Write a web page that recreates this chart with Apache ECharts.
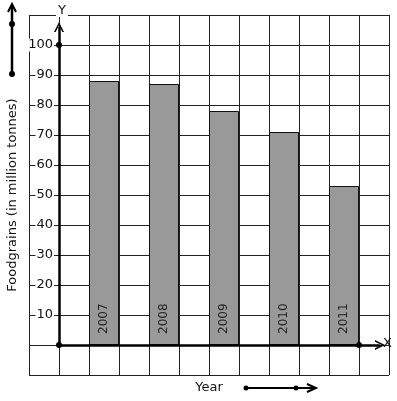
<!DOCTYPE html>
<html>
<head>
<meta charset="utf-8">
<script src="https://cdn.jsdelivr.net/npm/echarts@6/dist/echarts.min.js"></script>
<style>
  html, body { margin: 0; padding: 0; background: #fff; }
  #chart { width: 397px; height: 401px; }
</style>
</head>
<body>
<div id="chart"></div>
<script>
// data
var years = ['2007', '2008', '2009', '2010', '2011'];
var production = [88, 87, 78, 71, 53];
var yTicks = [10, 20, 30, 40, 50, 60, 70, 80, 90, 100];

var font = 'DejaVu Sans';
var chevron = 'path://M0,12 L6,0 L12,12 L10,12 L6,4 L2,12 Z';

// bars sit in every other grid column, starting at the second one
var barData = years.map(function (y, i) {
  return [1.5 + 2 * i, production[i]];
});

var chart = echarts.init(document.getElementById('chart'));
chart.setOption({
  animation: false,
  grid: { left: 29, right: 8, top: 15, bottom: 26, containLabel: false, outerBoundsMode: 'none' },
  xAxis: {
    type: 'value', min: -1, max: 11, interval: 1,
    axisLine: { show: false }, axisTick: { show: false }, axisLabel: { show: false },
    splitLine: { lineStyle: { color: '#222', width: 1 } },
    name: 'Year', nameLocation: 'middle', nameGap: 6,
    nameTextStyle: { fontFamily: font, fontSize: 13, color: '#111' }
  },
  yAxis: {
    type: 'value', min: -10, max: 110, interval: 10,
    axisLine: { show: false }, axisTick: { show: false },
    splitLine: { lineStyle: { color: '#222', width: 1 } },
    axisLabel: {
      inside: true, margin: 25, align: 'right',
      fontFamily: font, fontSize: 13, color: '#111',
      backgroundColor: '#fff', padding: [0, 1, 0, 1],
      formatter: function (v) { return yTicks.indexOf(v) >= 0 ? String(v) : ''; }
    }
  },
  series: [{
    type: 'bar',
    data: barData,
    barWidth: 30,
    itemStyle: { color: '#999999', borderColor: '#111', borderWidth: 1 },
    label: {
      show: true, position: 'insideBottom', distance: 11,
      rotate: 90, align: 'left', verticalAlign: 'middle',
      fontFamily: font, fontSize: 12, color: '#222',
      formatter: function (p) { return years[p.dataIndex]; }
    },
    markLine: {
      silent: true,
      symbolSize: [10, 10],
      lineStyle: { color: '#000', width: 2.5, type: 'solid' },
      label: { show: false },
      data: [
        [{ coord: [0, 0], symbol: 'circle', symbolSize: 6 }, { coord: [0, 100], symbol: 'none' }],
        [{ coord: [0, 100], symbol: 'circle', symbolSize: 6 }, { coord: [0, 106], symbol: chevron }],
        [{ coord: [0, 0], symbol: 'none' }, { coord: [10, 0], symbol: 'none' }],
        [{ coord: [10, 0], symbol: 'circle', symbolSize: 6 }, { coord: [10.7, 0], symbol: chevron }]
      ]
    }
  }],
  graphic: [
    { type: 'text', x: 13, y: 195, rotation: Math.PI / 2,
      style: { text: 'Foodgrains (in million tonnes)', font: '13px DejaVu Sans', fill: '#111',
        align: 'center', verticalAlign: 'middle' } },
    { type: 'text', left: 56, top: 4, z: 10,
      style: { text: 'Y', font: '13px DejaVu Sans', fill: '#111', backgroundColor: '#fff', padding: [0, 2, 0, 2] } },
    { type: 'text', left: 383, top: 337, z: 10,
      style: { text: 'X', font: '13px DejaVu Sans', fill: '#111' } },
    // side arrow next to the y axis name
    { type: 'line', shape: { x1: 12, y1: 5, x2: 12, y2: 74 }, style: { stroke: '#000', lineWidth: 2.5 } },
    { type: 'polyline', shape: { points: [[8, 12], [12, 4], [16, 12]] }, style: { stroke: '#000', lineWidth: 2, fill: null } },
    { type: 'circle', shape: { cx: 12, cy: 24, r: 3 }, style: { fill: '#000' } },
    { type: 'circle', shape: { cx: 12, cy: 74, r: 3 }, style: { fill: '#000' } },
    // arrow next to "Year"
    { type: 'line', shape: { x1: 246, y1: 388, x2: 315, y2: 388 }, style: { stroke: '#000', lineWidth: 2 } },
    { type: 'polyline', shape: { points: [[307, 384], [316, 388], [307, 392]] }, style: { stroke: '#000', lineWidth: 2, fill: null } },
    { type: 'circle', shape: { cx: 246, cy: 388, r: 2.5 }, style: { fill: '#000' } },
    { type: 'circle', shape: { cx: 296, cy: 388, r: 2.5 }, style: { fill: '#000' } }
  ]
});
</script>
</body>
</html>
